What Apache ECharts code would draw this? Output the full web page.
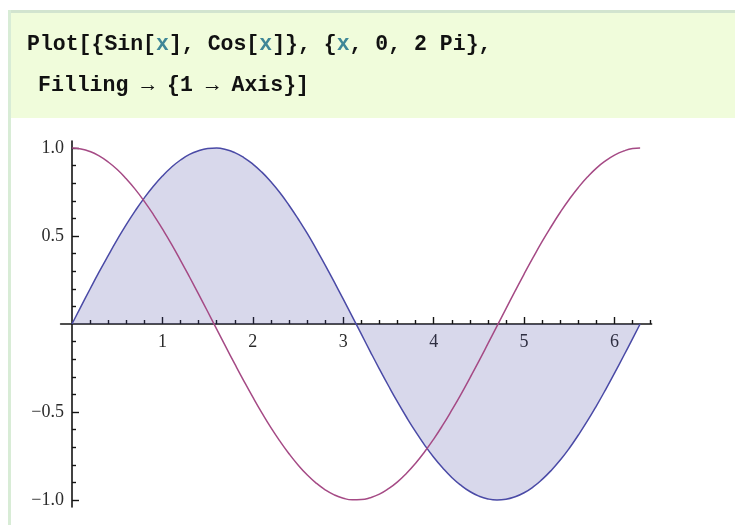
<!DOCTYPE html>
<html>
<head>
<meta charset="utf-8">
<script src="https://cdn.jsdelivr.net/npm/echarts@6/dist/echarts.min.js"></script>
<style>
  html, body { margin: 0; padding: 0; background: #ffffff; }
  #chart { width: 735px; height: 525px; }
</style>
</head>
<body>
<div id="chart"></div>
<script>
// Sample positions along x (0 .. 2π)
const xValues = [0, 0.1, 0.2, 0.3, 0.4, 0.5, 0.6, 0.7, 0.8, 0.9, 1.0, 1.1, 1.2, 1.3, 1.4, 1.5,
  1.6, 1.7, 1.8, 1.9, 2.0, 2.1, 2.2, 2.3, 2.4, 2.5, 2.6, 2.7, 2.8, 2.9, 3.0, 3.1, 3.2, 3.3,
  3.4, 3.5, 3.6, 3.7, 3.8, 3.9, 4.0, 4.1, 4.2, 4.3, 4.4, 4.5, 4.6, 4.7, 4.8, 4.9, 5.0, 5.1,
  5.2, 5.3, 5.4, 5.5, 5.6, 5.7, 5.8, 5.9, 6.0, 6.1, 6.2, 6.283];

// Sin[x] curve (filled to the axis)
const sinValues = [0.000, 0.100, 0.199, 0.296, 0.389, 0.479, 0.565, 0.644, 0.717, 0.783,
  0.841, 0.891, 0.932, 0.964, 0.985, 0.997, 1.000, 0.992, 0.974, 0.946, 0.909, 0.863, 0.808,
  0.746, 0.675, 0.598, 0.516, 0.427, 0.335, 0.239, 0.141, 0.042, -0.058, -0.158, -0.256,
  -0.351, -0.443, -0.530, -0.612, -0.688, -0.757, -0.818, -0.872, -0.916, -0.952, -0.978,
  -0.994, -1.000, -0.996, -0.982, -0.959, -0.926, -0.883, -0.832, -0.773, -0.706, -0.631,
  -0.551, -0.465, -0.374, -0.279, -0.182, -0.083, 0.000];

// Cos[x] curve
const cosValues = [1.000, 0.995, 0.980, 0.955, 0.921, 0.878, 0.825, 0.765, 0.697, 0.622,
  0.540, 0.454, 0.362, 0.267, 0.170, 0.071, -0.029, -0.129, -0.227, -0.323, -0.416, -0.505,
  -0.589, -0.666, -0.737, -0.801, -0.857, -0.904, -0.942, -0.971, -0.990, -0.999, -0.998,
  -0.987, -0.967, -0.936, -0.897, -0.848, -0.791, -0.726, -0.654, -0.575, -0.490, -0.401,
  -0.307, -0.211, -0.112, -0.012, 0.087, 0.187, 0.284, 0.378, 0.469, 0.554, 0.635, 0.709,
  0.776, 0.835, 0.886, 0.927, 0.960, 0.983, 0.997, 1.000];

// Tick marks and their labels
const xTickValues = [1, 2, 3, 4, 5, 6];
const xTickLabels = ['1', '2', '3', '4', '5', '6'];
const yTickValues = [-1, -0.5, 0.5, 1];
const yTickLabels = ['\u22121.0', '\u22120.5', '0.5', '1.0'];
const xMinorTicks = [0.2, 0.4, 0.6, 0.8, 1.2, 1.4, 1.6, 1.8, 2.2, 2.4, 2.6, 2.8, 3.2, 3.4, 3.6, 3.8,
  4.2, 4.4, 4.6, 4.8, 5.2, 5.4, 5.6, 5.8, 6.2, 6.4];
const yMinorTicks = [-0.9, -0.8, -0.7, -0.6, -0.4, -0.3, -0.2, -0.1, 0.1, 0.2, 0.3, 0.4,
  0.6, 0.7, 0.8, 0.9];

// Plot range (with a little padding around the curves)
const xRange = [-0.126, 6.41];
const yRange = [-1.04, 1.04];

const chart = echarts.init(document.getElementById('chart'), null, { renderer: 'canvas' });

// Pixel frame of the plot and where the origin falls inside it
const plotBox = { left: 60.6, top: 141, width: 591, height: 366 };
const originX = plotBox.left + plotBox.width * (0 - xRange[0]) / (xRange[1] - xRange[0]);
const originY = plotBox.top + plotBox.height * (yRange[1] - 0) / (yRange[1] - yRange[0]);

const inkColor = '#141414';
const labelFont = { fontFamily: 'Liberation Serif', fontSize: 18, color: '#2b2b2b' };

function pairs(ys) {
  return xValues.map((x, i) => [x, ys[i]]);
}
function lookup(values, labels) {
  return v => {
    const i = values.findIndex(t => Math.abs(t - v) < 1e-9);
    return i < 0 ? '' : labels[i];
  };
}

const codeFont = {
  fontFamily: 'Liberation Mono',
  fontWeight: 'bold',
  fontSize: 21.5,
  fill: '#111111'
};
const varStyle = { fill: '#3f8797', fontFamily: 'Liberation Mono', fontWeight: 'bold', fontSize: 21.5 };

const hiddenAxis = {
  axisLine: { show: false, onZero: false },
  axisTick: { show: false },
  axisLabel: { show: false },
  splitLine: { show: false }
};

chart.setOption({
  animation: false,
  backgroundColor: '#ffffff',
  graphic: [
    // input cell background and frame
    { type: 'rect', shape: { x: 8, y: 10, width: 727, height: 108 }, style: { fill: '#f0fcdb' }, z: 0 },
    { type: 'rect', shape: { x: 8, y: 10, width: 727, height: 3 }, style: { fill: '#d2e4cf' }, z: 1 },
    { type: 'rect', shape: { x: 8, y: 10, width: 3, height: 515 }, style: { fill: '#d8ecd6' }, z: 1 },
    {
      type: 'text', x: 27, y: 45, z: 2,
      style: Object.assign({
        text: 'Plot[{Sin[{v|x}], Cos[{v|x}]}, {{v|x}, 0, 2 Pi},',
        verticalAlign: 'middle',
        rich: { v: varStyle }
      }, codeFont)
    },
    {
      type: 'text', x: 38, y: 86, z: 2,
      style: Object.assign({
        text: 'Filling \u2192 {1 \u2192 Axis}]',
        verticalAlign: 'middle'
      }, codeFont)
    }
  ],
  grid: [
    // 0: curves, axis lines and major ticks
    Object.assign({ outerBoundsMode: 'none' }, plotBox),
    // 1: minor ticks
    Object.assign({ outerBoundsMode: 'none' }, plotBox),
    // 2: x tick labels (bottom edge sits on y = 0)
    { outerBoundsMode: 'none', left: plotBox.left, width: plotBox.width, top: plotBox.top,
      height: originY - plotBox.top },
    // 3: y tick labels (left edge sits on x = 0)
    { outerBoundsMode: 'none', left: originX, width: plotBox.left + plotBox.width - originX,
      top: plotBox.top, height: plotBox.height }
  ],
  xAxis: [
    {
      type: 'value', gridIndex: 0, min: xRange[0], max: xRange[1],
      axisLine: { show: true, onZero: true, lineStyle: { color: inkColor, width: 1.6 } },
      axisTick: { show: true, inside: true, length: 7, customValues: xTickValues,
        lineStyle: { color: inkColor, width: 1.4 } },
      axisLabel: { show: false },
      splitLine: { show: false }
    },
    {
      type: 'value', gridIndex: 1, min: xRange[0], max: xRange[1],
      axisLine: { show: false, onZero: true },
      axisTick: { show: true, inside: true, length: 4, customValues: xMinorTicks,
        lineStyle: { color: inkColor, width: 1.4 } },
      axisLabel: { show: false },
      splitLine: { show: false }
    },
    {
      type: 'value', gridIndex: 2, min: xRange[0], max: xRange[1], position: 'bottom',
      axisLine: { show: false, onZero: false },
      axisTick: { show: false },
      axisLabel: Object.assign({ show: true, margin: 9, customValues: xTickValues,
        formatter: lookup(xTickValues, xTickLabels) }, labelFont),
      splitLine: { show: false }
    },
    Object.assign({ type: 'value', gridIndex: 3, min: 0, max: xRange[1] }, hiddenAxis)
  ],
  yAxis: [
    {
      type: 'value', gridIndex: 0, min: yRange[0], max: yRange[1],
      axisLine: { show: true, onZero: true, lineStyle: { color: inkColor, width: 1.6 } },
      axisTick: { show: true, inside: true, length: 7, customValues: yTickValues,
        lineStyle: { color: inkColor, width: 1.4 } },
      axisLabel: { show: false },
      splitLine: { show: false }
    },
    {
      type: 'value', gridIndex: 1, min: yRange[0], max: yRange[1],
      axisLine: { show: false, onZero: true },
      axisTick: { show: true, inside: true, length: 4, customValues: yMinorTicks,
        lineStyle: { color: inkColor, width: 1.4 } },
      axisLabel: { show: false },
      splitLine: { show: false }
    },
    Object.assign({ type: 'value', gridIndex: 2, min: 0, max: yRange[1] }, hiddenAxis),
    {
      type: 'value', gridIndex: 3, min: yRange[0], max: yRange[1], position: 'left',
      axisLine: { show: false, onZero: false },
      axisTick: { show: false },
      axisLabel: Object.assign({ show: true, margin: 8, customValues: yTickValues,
        formatter: lookup(yTickValues, yTickLabels) }, labelFont),
      splitLine: { show: false }
    }
  ],
  series: [
    {
      name: 'Sin[x]', type: 'line', xAxisIndex: 0, yAxisIndex: 0,
      data: pairs(sinValues), smooth: true, showSymbol: false, symbol: 'none',
      lineStyle: { color: '#4a4aa6', width: 1.5 },
      areaStyle: { color: 'rgba(61, 61, 153, 0.2)', opacity: 1 },
      z: 3
    },
    {
      name: 'Cos[x]', type: 'line', xAxisIndex: 0, yAxisIndex: 0,
      data: pairs(cosValues), smooth: true, showSymbol: false, symbol: 'none',
      lineStyle: { color: '#a54a85', width: 1.5 },
      z: 4
    }
  ]
});
</script>
</body>
</html>
